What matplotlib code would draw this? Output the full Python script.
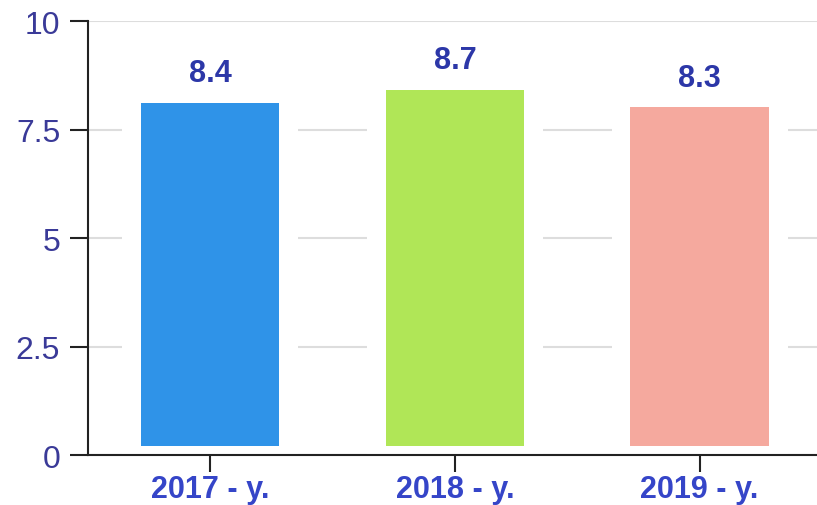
import numpy as np
import matplotlib.pyplot as plt

# dados
anos = ['2017 - y.', '2018 - y.', '2019 - y.']
valores = [8.4, 8.7, 8.3]
cores = ['#2f93e8', '#b0e657', '#f5a99e']
yticks = [0, 2.5, 5, 7.5, 10]
ytick_labels = ['0', '2.5', '5', '7.5', '10']

plt.rcParams['font.family'] = ['Liberation Sans', 'DejaVu Sans']

fig = plt.figure(figsize=(8.17, 5.06), dpi=100)
ax = fig.add_axes([0.1077, 0.0988, 0.8923, 0.8577])

x = np.arange(len(anos))

# fundo branco atras das barras (corta as linhas de grade)
ax.bar(x, valores, width=0.72, color='white', zorder=2)
# barras coloridas, um pouco recolhidas
base = 0.2
topo = [v - 0.29 for v in valores]
ax.bar(x, [t - base for t in topo], bottom=base, width=0.565, color=cores, zorder=3)

for xi, v in zip(x, valores):
    ax.text(xi, v + 0.05, f'{v}', ha='center', va='bottom', fontsize=22,
            fontweight='bold', color='#2c37a8', zorder=4)

ax.set_xlim(-0.5, 2.48)
ax.set_ylim(0, 10)
ax.set_yticks(yticks)
ax.set_yticklabels(ytick_labels, fontsize=23, color='#3a3a98')
ax.set_xticks(x)
ax.set_xticklabels(anos, fontsize=22, fontweight='bold', color='#3545c8')

ax.yaxis.grid(True, color='#dddddd', linewidth=1.5, zorder=0)
ax.set_axisbelow(True)
ax.spines['top'].set_visible(False)
ax.spines['right'].set_visible(False)
for s in ['left', 'bottom']:
    ax.spines[s].set_color('#222222')
    ax.spines[s].set_linewidth(1.5)
ax.tick_params(axis='y', length=13, width=1.5, color='#222222', pad=7)
ax.tick_params(axis='x', length=12, width=1.5, color='#222222', pad=2)

fig.savefig('out.png', dpi=100)
